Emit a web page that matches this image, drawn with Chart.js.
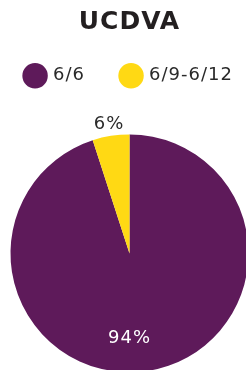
<!DOCTYPE html>
<html>
<head>
<meta charset="utf-8">
<script src="https://cdn.jsdelivr.net/npm/chart.js@4"></script>
<style>
    html, body { margin: 0; padding: 0; background: #fff; overflow: hidden; width: 246px; height: 370px; }
    #wrap { position: absolute; left: -71px; top: 0; width: 401px; height: 412px; }
</style>
</head>
<body>
<div id="wrap"><canvas id="pieChart"></canvas></div>
<script>
const categories = ['6/6', '6/9-6/12'];
const shares = [95, 5];
const shareLabels = ['94%', '6%'];
const sliceColors = ['#5e1a5a', '#ffd914'];

const FONT = "'DejaVu Sans', sans-serif";

// the reference type is wider than DejaVu, a bit of tracking gets closer
const tracking = {
    id: 'tracking',
    beforeUpdate(chart) { chart.ctx.letterSpacing = '1px'; },
    beforeDraw(chart) { chart.ctx.letterSpacing = '1px'; }
};

// percent labels: the small slice gets its label outside, the big one inside near the bottom
const pctLabels = {
    id: 'pctLabels',
    afterDatasetsDraw(chart) {
        const ctx = chart.ctx;
        const meta = chart.getDatasetMeta(0);
        ctx.save();
        ctx.font = 'normal 18px ' + FONT;
        ctx.textAlign = 'center';
        ctx.textBaseline = 'middle';
        meta.data.forEach(function(arc, i) {
            const p = arc.getProps(['x', 'y', 'startAngle', 'endAngle', 'outerRadius'], true);
            if (i === 0) {
                ctx.fillStyle = '#ffffff';
                ctx.fillText(shareLabels[i], p.x, p.y + p.outerRadius * 0.715);
            } else {
                const mid = (p.startAngle + p.endAngle) / 2;
                const r = p.outerRadius + 12;
                ctx.fillStyle = '#2a2a2a';
                ctx.fillText(shareLabels[i], p.x + Math.cos(mid) * r, p.y + Math.sin(mid) * r);
            }
        });
        ctx.restore();
    }
};

const pieChart = new Chart(document.getElementById('pieChart').getContext('2d'), {
    type: 'pie',
    data: {
        labels: categories,
        datasets: [{
            data: shares,
            backgroundColor: sliceColors,
            borderWidth: 0,
            radius: 119
        }]
    },
    options: {
        responsive: true,
        maintainAspectRatio: false,
        animation: false,
        layout: { padding: 0 },
        plugins: {
            title: {
                display: true,
                text: 'UCDVA',
                color: '#231f20',
                font: { family: FONT, size: 25, weight: 'bold', lineHeight: 1.2 },
                padding: { top: 7.5, bottom: -7.7 }
            },
            legend: {
                display: true,
                position: 'top',
                labels: {
                    usePointStyle: true,
                    pointStyle: 'circle',
                    color: '#2a2a2a',
                    font: { family: FONT, size: 18, weight: 'normal' },
                    padding: 37
                }
            },
            tooltip: { enabled: false }
        }
    },
    plugins: [tracking, pctLabels]
});
</script>
</body>
</html>
